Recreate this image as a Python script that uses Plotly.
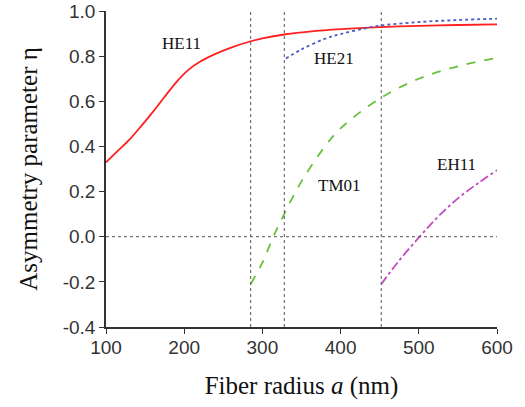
import plotly.graph_objects as go

he11_x = [100, 115, 130, 145, 160, 175, 190, 205, 220, 240, 260, 285, 300, 330, 360, 400, 450, 500, 550, 600]
he11_y = [0.33, 0.38, 0.43, 0.49, 0.553, 0.62, 0.685, 0.738, 0.775, 0.81, 0.838, 0.866, 0.879, 0.897, 0.909, 0.920, 0.929, 0.934, 0.938, 0.941]

he21_x = [330, 350, 380, 400, 430, 450, 500, 550, 600]
he21_y = [0.79, 0.83, 0.877, 0.898, 0.922, 0.935, 0.951, 0.960, 0.966]

tm01_x = [285, 300, 314, 330, 350, 380, 400, 450, 500, 550, 600]
tm01_y = [-0.21, -0.115, 0.0, 0.115, 0.245, 0.40, 0.48, 0.612, 0.70, 0.755, 0.792]

eh11_x = [452, 475, 501, 525, 550, 575, 600]
eh11_y = [-0.21, -0.105, 0.0, 0.09, 0.17, 0.235, 0.295]

cutoffs = [285, 328, 452]

labels = ["HE11", "HE21", "TM01", "EH11"]
label_x = [197, 392, 399, 548]
label_y = [0.855, 0.79, 0.225, 0.32]

x_ticks = [100, 200, 300, 400, 500, 600]
y_ticks = [-0.4, -0.2, 0.0, 0.2, 0.4, 0.6, 0.8, 1.0]
y_ticktext = ["-0.4", "-0.2", "0.0", "0.2", "0.4", "0.6", "0.8", "1.0"]

fig = go.Figure()
for c in cutoffs:
    fig.add_shape(type="line", x0=c, x1=c, y0=-0.4, y1=1.0, xref="x", yref="y",
                  line=dict(color="#555555", width=1, dash="dot"))
fig.add_shape(type="line", x0=100, x1=600, y0=0, y1=0, xref="x", yref="y",
              line=dict(color="#555555", width=1, dash="dot"))

fig.add_trace(go.Scatter(x=he11_x, y=he11_y, mode="lines", line=dict(color="#ff2020", width=1.8, shape="spline", smoothing=0.8)))
fig.add_trace(go.Scatter(x=he21_x, y=he21_y, mode="lines", line=dict(color="#4a5cc8", width=1.8, dash="dot", shape="spline")))
fig.add_trace(go.Scatter(x=tm01_x, y=tm01_y, mode="lines", line=dict(color="#66c23c", width=1.8, dash="dash", shape="spline")))
fig.add_trace(go.Scatter(x=eh11_x, y=eh11_y, mode="lines", line=dict(color="#c04cc0", width=1.8, dash="dashdot", shape="spline")))

for t, x, y in zip(labels, label_x, label_y):
    fig.add_annotation(x=x, y=y, text=t, showarrow=False,
                       font=dict(family="Liberation Serif", size=17, color="#111111"))

fig.update_layout(
    width=525, height=407,
    margin=dict(l=106, r=28, t=11, b=80),
    plot_bgcolor="white", paper_bgcolor="white",
    showlegend=False,
    xaxis=dict(range=[100, 600], tickvals=x_ticks, automargin=False,
               showgrid=False, zeroline=False, showline=True, linecolor="#333333", linewidth=1.5,
               ticks="outside", ticklen=5, tickcolor="#333333", ticklabelstandoff=-3,
               tickfont=dict(family="Liberation Sans", size=19, color="#333333"),
               title=dict(text="Fiber radius <i>a</i> (nm)", standoff=20,
                          font=dict(family="Liberation Serif", size=25, color="#111111"))),
    yaxis=dict(range=[-0.4, 1.0], tickvals=y_ticks, ticktext=y_ticktext, automargin=False,
               showgrid=False, zeroline=False, showline=True, linecolor="#333333", linewidth=1.5,
               ticks="outside", ticklen=5, tickcolor="#333333",
               tickfont=dict(family="Liberation Sans", size=19, color="#333333"),
               title=dict(text="Asymmetry parameter η", standoff=18,
                          font=dict(family="Liberation Serif", size=25, color="#111111"))),
)

fig.write_html("out.html")
